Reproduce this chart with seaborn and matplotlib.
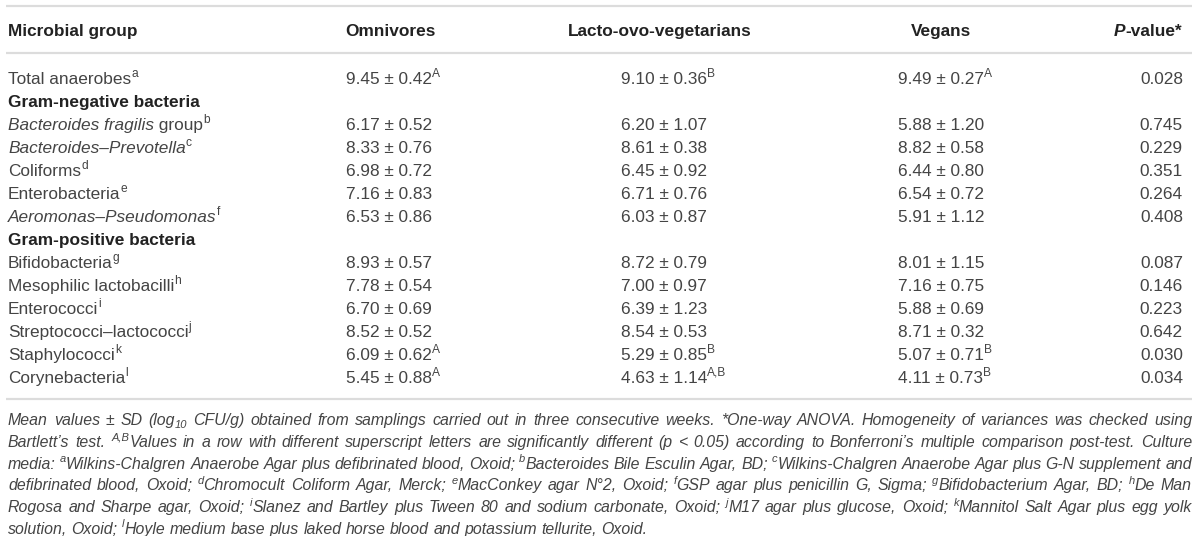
import matplotlib
matplotlib.use("Agg")
import matplotlib.pyplot as plt
import seaborn as sns
import pandas as pd

# table data
groups = ["Total anaerobes", "Gram-negative bacteria", "Bacteroides fragilis group",
          "Bacteroides–Prevotella", "Coliforms", "Enterobacteria",
          "Aeromonas–Pseudomonas", "Gram-positive bacteria", "Bifidobacteria",
          "Mesophilic lactobacilli", "Enterococci", "Streptococci–lactococci",
          "Staphylococci", "Corynebacteria"]
italic_part = ["", "", "Bacteroides fragilis", "Bacteroides–Prevotella", "", "",
               "Aeromonas–Pseudomonas", "", "", "", "", "", "", ""]
is_heading = [False, True, False, False, False, False, False, True,
              False, False, False, False, False, False]
media_note = ["a", "", "b", "c", "d", "e", "f", "", "g", "h", "i", "j", "k", "l"]

omni_mean = [9.45, None, 6.17, 8.33, 6.98, 7.16, 6.53, None, 8.93, 7.78, 6.70, 8.52, 6.09, 5.45]
omni_sd = [0.42, None, 0.52, 0.76, 0.72, 0.83, 0.86, None, 0.57, 0.54, 0.69, 0.52, 0.62, 0.88]
omni_sup = ["A", "", "", "", "", "", "", "", "", "", "", "", "A", "A"]

lacto_mean = [9.10, None, 6.20, 8.61, 6.45, 6.71, 6.03, None, 8.72, 7.00, 6.39, 8.54, 5.29, 4.63]
lacto_sd = [0.36, None, 1.07, 0.38, 0.92, 0.76, 0.87, None, 0.79, 0.97, 1.23, 0.53, 0.85, 1.14]
lacto_sup = ["B", "", "", "", "", "", "", "", "", "", "", "", "B", "A,B"]

vegan_mean = [9.49, None, 5.88, 8.82, 6.44, 6.54, 5.91, None, 8.01, 7.16, 5.88, 8.71, 5.07, 4.11]
vegan_sd = [0.27, None, 1.20, 0.58, 0.80, 0.72, 1.12, None, 1.15, 0.75, 0.69, 0.32, 0.71, 0.73]
vegan_sup = ["A", "", "", "", "", "", "", "", "", "", "", "", "B", "B"]

p_values = [0.028, None, 0.745, 0.229, 0.351, 0.264, 0.408, None, 0.087, 0.146, 0.223, 0.642, 0.030, 0.034]

col_headers = ["Omnivores", "Lacto-ovo-vegetarians", "Vegans"]

footnote = [
    [("Mean values ± SD (log", "i"), ("10", "i_"),
     (" CFU/g) obtained from samplings carried out in three consecutive weeks. *One-way ANOVA. Homogeneity of variances was checked using", "i")],
    [("Bartlett’s test. ", "i"), ("A,B", "i^"),
     ("Values in a row with different superscript letters are significantly different (p < 0.05) according to Bonferroni’s multiple comparison post-test. Culture", "i")],
    [("media: ", "i"), ("a", "i^"), ("Wilkins-Chalgren Anaerobe Agar plus defibrinated blood, Oxoid; ", "i"),
     ("b", "i^"), ("Bacteroides Bile Esculin Agar, BD; ", "i"), ("c", "i^"),
     ("Wilkins-Chalgren Anaerobe Agar plus G-N supplement and", "i")],
    [("defibrinated blood, Oxoid; ", "i"), ("d", "i^"), ("Chromocult Coliform Agar, Merck; ", "i"),
     ("e", "i^"), ("MacConkey agar N°2, Oxoid; ", "i"), ("f", "i^"), ("GSP agar plus penicillin G, Sigma; ", "i"),
     ("g", "i^"), ("Bifidobacterium Agar, BD; ", "i"), ("h", "i^"), ("De Man", "i")],
    [("Rogosa and Sharpe agar, Oxoid; ", "i"), ("i", "i^"),
     ("Slanez and Bartley plus Tween 80 and sodium carbonate, Oxoid; ", "i"), ("j", "i^"),
     ("M17 agar plus glucose, Oxoid; ", "i"), ("k", "i^"), ("Mannitol Salt Agar plus egg yolk", "i")],
    [("solution, Oxoid; ", "i"), ("l", "i^"),
     ("Hoyle medium base plus laked horse blood and potassium tellurite, Oxoid.", "i")],
]

df = pd.DataFrame({"group": groups, "omni": omni_mean, "omni_sd": omni_sd,
                   "lacto": lacto_mean, "lacto_sd": lacto_sd,
                   "vegan": vegan_mean, "vegan_sd": vegan_sd, "p": p_values})

sns.set_theme(style="white")
plt.rcParams["font.family"] = ["Liberation Sans", "DejaVu Sans"]

BODY = "#444444"
HEAD = "#222222"
RULE = "#dcdcdc"
FS = 12.4
FS_NOTE = 11.4

fig = plt.figure(figsize=(12, 5.36), dpi=100)
ax = fig.add_axes([0, 0, 1, 1])
ax.set_xlim(0, 1200)
ax.set_ylim(536, 0)
ax.axis("off")
renderer = fig.canvas.get_renderer()


def props(kind, size, color):
    small = "^" in kind or "_" in kind
    kw = dict(fontsize=size * 0.7 if small else size, color=color,
              style="italic" if "i" in kind else "normal",
              weight="bold" if "b" in kind else "normal")
    px = size * 100 / 72
    dy = -0.42 * px if "^" in kind else (0.22 * px if "_" in kind else 0)
    return kw, dy


def width(s, kind, size, color):
    kw, _ = props(kind, size, color)
    t = ax.text(0, 0, s, **kw)
    w = t.get_window_extent(renderer).width
    t.remove()
    return w


def draw_runs(x, y, runs, size, color, ha="left"):
    total = sum(width(s, k, size, color) for s, k in runs)
    if ha == "center":
        x -= total / 2
    elif ha == "right":
        x -= total
    for s, k in runs:
        kw, dy = props(k, size, color)
        ax.text(x, y + dy, s, va="baseline", ha="left", **kw)
        x += width(s, k, size, color)


def draw_justified(x0, x1, y, runs, size, color, justify=True):
    # split into words, superscripts stick to the word after them
    words = [[]]
    for s, k in runs:
        parts = s.split(" ")
        for j, p in enumerate(parts):
            if j > 0:
                words.append([])
            if p:
                words[-1].append((p, k))
    words = [w for w in words if w]
    ww = [sum(width(s, k, size, color) for s, k in w) for w in words]
    space = width("a a", "i", size, color) - width("aa", "i", size, color)
    if justify and len(words) > 1:
        gap = (x1 - x0 - sum(ww)) / (len(words) - 1)
    else:
        gap = space
    x = x0
    for w, wd in zip(words, ww):
        draw_runs(x, y, w, size, color)
        x += wd + gap


# rules
for yy in (6, 53, 399):
    ax.plot([6, 1192], [yy, yy], color=RULE, lw=1.6, solid_capstyle="butt")

BASE = 6  # baseline offset from row centre
head_y = 30
draw_runs(8, head_y + BASE, [("Microbial group", "b")], FS, HEAD)
for name, cx in zip(col_headers, (390, 660, 941)):
    draw_runs(cx, head_y + BASE, [(name, "b")], FS, HEAD, ha="center")
draw_runs(1182, head_y + BASE, [("P", "bi"), ("-value*", "b")], FS, HEAD, ha="right")

col_x = (346, 621, 898)
for i, row in df.iterrows():
    y = 78 + 23 * i + BASE
    name = row["group"]
    if is_heading[i]:
        draw_runs(8, y, [(name, "b")], FS, HEAD)
        continue
    ital = italic_part[i]
    runs = []
    if ital:
        runs.append((ital, "i"))
        rest = name[len(ital):]
        if rest:
            runs.append((rest, "n"))
    else:
        runs.append((name, "n"))
    runs.append((media_note[i], "n^"))
    draw_runs(8, y, runs, FS, BODY)

    for cx, m, s, sup in zip(col_x, (row["omni"], row["lacto"], row["vegan"]),
                             (row["omni_sd"], row["lacto_sd"], row["vegan_sd"]),
                             (omni_sup[i], lacto_sup[i], vegan_sup[i])):
        cell = [(f"{m:.2f} ± {s:.2f}", "n")]
        if sup:
            cell.append((sup, "n^"))
        draw_runs(cx, y, cell, FS, BODY)
    draw_runs(1183, y, [(f"{row['p']:.3f}", "n")], FS, BODY, ha="right")

# footnote
for k, line in enumerate(footnote):
    y = 420 + 21.8 * k + 5
    draw_justified(8, 1192, y, line, FS_NOTE, BODY, justify=k < len(footnote) - 1)

fig.savefig("out.png", dpi=100)
